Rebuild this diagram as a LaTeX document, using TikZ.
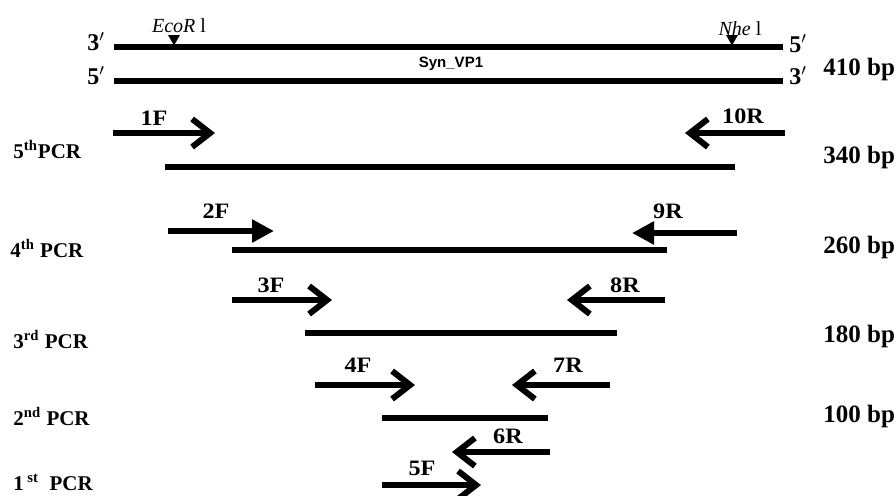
\documentclass[tikz,border=0pt]{standalone}
\usepackage{fontspec}
\usepackage{graphicx}
\setmainfont{Liberation Serif}
\newfontfamily\synfont{Liberation Sans}
\usetikzlibrary{arrows.meta,shapes.geometric}
\begin{document}
\begin{tikzpicture}[x=0.5pt,y=-0.5pt,
  strand/.style={line width=3pt},
  prod/.style={line width=2.7pt},
  fwd/.style={line width=3pt,-{Straight Barb[length=9pt,width=14pt]}},
  fwdtri/.style={line width=3pt,-{Triangle[length=11pt,width=11pt]}},
  plab/.style={font=\fontsize{11}{12}\selectfont\bfseries, inner sep=0pt, anchor=base},
  bplab/.style={font=\fontsize{12.5}{14}\selectfont\bfseries, inner sep=0pt, anchor=base west},
  rowlab/.style={font=\fontsize{10.5}{12}\selectfont\bfseries, inner sep=0pt, anchor=base west},
  endlab/.style={font=\fontsize{12}{14}\selectfont\bfseries, inner sep=0pt, anchor=base west},
  sitelab/.style={font=\fontsize{10}{12}\selectfont, inner sep=0pt, anchor=base},
  sitemark/.style={regular polygon, regular polygon sides=3, shape border rotate=180,
    fill=black, inner sep=0pt, minimum size=6.9pt},
]
\useasboundingbox (0,0) rectangle (896,495);

% DNA strands
\coordinate (s1a) at (114,47); \coordinate (s1b) at (783,47);
\coordinate (s2a) at (114,81); \coordinate (s2b) at (783,81);
\draw[strand] (s1a) -- (s1b);
\draw[strand] (s2a) -- (s2b);
\node[endlab] (l3) at (87,50) {3$^{\prime}$};
\node[endlab] (l5) at (87,84) {5$^{\prime}$};
\node[endlab] (r5) at (789,52) {5$^{\prime}$};
\node[endlab] (r3) at (789,84) {3$^{\prime}$};
\node[sitelab] (ecor) at (179,32) {\textit{EcoR} l};
\node[sitelab] (nhe) at (740,35) {\textit{Nhe} l};
\node[sitemark] (ecortri) at (174,38.5) {};
\node[sitemark] (nhetri) at (732,38.5) {};
\node[font=\synfont\bfseries\fontsize{7.5}{9}\selectfont, inner sep=0pt] (syn) at (451,64) {Syn\_VP1};
\node[bplab] (bp410) at (823,75) {410 bp};

% 5th PCR
\coordinate (p1a) at (113,133); \coordinate (p1b) at (215,133);
\coordinate (p10a) at (785,133); \coordinate (p10b) at (685,133);
\draw[fwd] (p1a) -- (p1b);
\draw[fwd] (p10a) -- (p10b);
\node[plab] (t1F) at (154,125) {\scalebox{1.1}[1]{1F}};
\node[plab] (t10R) at (743,123) {\scalebox{1.1}[1]{10R}};
\coordinate (q5a) at (165,167); \coordinate (q5b) at (735,167);
\draw[prod] (q5a) -- (q5b);
\node[rowlab] (r5th) at (13,158) {5\textsuperscript{th}PCR};
\node[bplab] (bp340) at (823,163) {340 bp};

% 4th PCR
\coordinate (p2a) at (168,231); \coordinate (p2b) at (274,231);
\coordinate (p9a) at (737,233); \coordinate (p9b) at (632,233);
\draw[fwdtri] (p2a) -- (p2b);
\draw[fwdtri] (p9a) -- (p9b);
\node[plab] (t2F) at (216,218) {\scalebox{1.1}[1]{2F}};
\node[plab] (t9R) at (668,218) {\scalebox{1.1}[1]{9R}};
\coordinate (q4a) at (232,250); \coordinate (q4b) at (667,250);
\draw[prod] (q4a) -- (q4b);
\node[rowlab] (r4th) at (10,257) {4\textsuperscript{th} PCR};
\node[bplab] (bp260) at (823,253) {260 bp};

% 3rd PCR
\coordinate (p3a) at (232,300); \coordinate (p3b) at (332,300);
\coordinate (p8a) at (665,300); \coordinate (p8b) at (567,300);
\draw[fwd] (p3a) -- (p3b);
\draw[fwd] (p8a) -- (p8b);
\node[plab] (t3F) at (271,292) {\scalebox{1.1}[1]{3F}};
\node[plab] (t8R) at (625,292) {\scalebox{1.1}[1]{8R}};
\coordinate (q3a) at (305,333); \coordinate (q3b) at (617,333);
\draw[prod] (q3a) -- (q3b);
\node[rowlab] (r3rd) at (13,348) {3\textsuperscript{rd} PCR};
\node[bplab] (bp180) at (823,342) {180 bp};

% 2nd PCR
\coordinate (p4a) at (315,385); \coordinate (p4b) at (415,385);
\coordinate (p7a) at (610,385); \coordinate (p7b) at (512,385);
\draw[fwd] (p4a) -- (p4b);
\draw[fwd] (p7a) -- (p7b);
\node[plab] (t4F) at (358,372) {\scalebox{1.1}[1]{4F}};
\node[plab] (t7R) at (568,372) {\scalebox{1.1}[1]{7R}};
\coordinate (q2a) at (382,418); \coordinate (q2b) at (548,418);
\draw[prod] (q2a) -- (q2b);
\node[rowlab] (r2nd) at (13,425) {2\textsuperscript{nd} PCR};
\node[bplab] (bp100) at (823,422) {100 bp};

% 1st PCR
\coordinate (p6a) at (550,452); \coordinate (p6b) at (452,452);
\coordinate (p5a) at (382,485); \coordinate (p5b) at (481,485);
\draw[fwd] (p6a) -- (p6b);
\draw[fwd] (p5a) -- (p5b);
\node[plab] (t6R) at (508,443) {\scalebox{1.1}[1]{6R}};
\node[plab] (t5F) at (422,475) {\scalebox{1.1}[1]{5F}};
\node[rowlab] (r1st) at (13,490) {1\,\textsuperscript{st}\ \ PCR};
\end{tikzpicture}
\end{document}
